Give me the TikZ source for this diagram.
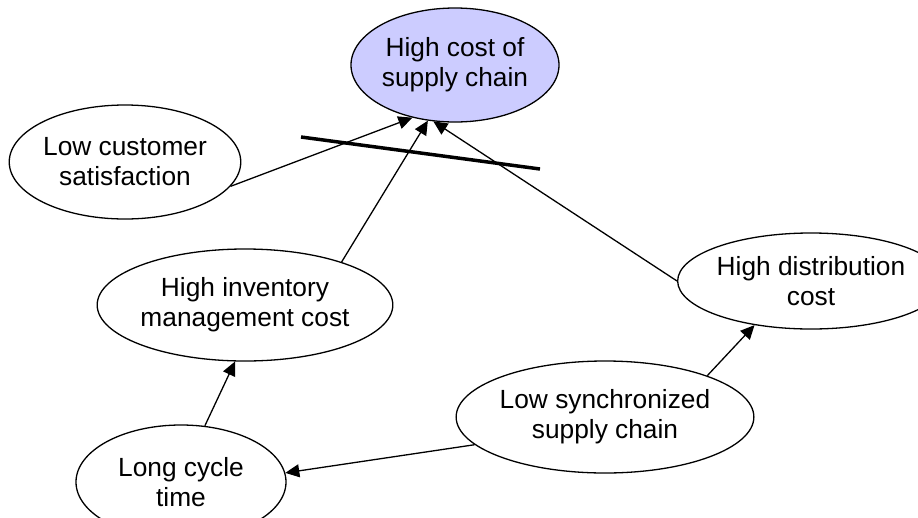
\documentclass[tikz,border=0pt]{standalone}
\usepackage{fontspec}
\setmainfont{Liberation Sans}
\usetikzlibrary{shapes.geometric,arrows.meta}
\definecolor{lav}{HTML}{CCCCFF}
\begin{document}
\begin{tikzpicture}[x=1pt,y=-1pt,
  oval/.style={draw=black,line width=1.3pt,ellipse,inner sep=0pt,align=center,
    font=\fontsize{26.3}{30}\selectfont,fill=white},
  link/.style={line width=1.3pt,-{Triangle[length=14pt,width=13pt]}},
  bar/.style={line width=3.5pt}]
\useasboundingbox (0,0) rectangle (918,517);
\node[oval,fill=lav,minimum width=208pt,minimum height=114pt] (top) at (455,65) {High cost of\\supply chain};
\node[oval,minimum width=224pt,minimum height=114pt] (lcs) at (125,162) {Low customer\\satisfaction};
\node[oval,minimum width=272pt,minimum height=112pt] (hin) at (245,305) {High inventory\\management cost};
\node[oval,minimum width=214pt,minimum height=96pt] (hdc) at (811,281) {High distribution\\cost};
\node[oval,minimum width=256pt,minimum height=112pt] (lss) at (605,417) {Low synchronized\\supply chain};
\node[oval,minimum width=210pt,minimum height=114pt] (lct) at (181,482) {Long cycle\\time};
\draw[link] (lcs.-13.6) -- (top.231);
\draw[link] (hin.24.4) -- (top.244.7);
\draw[link] (hdc.180) -- (top.249);
\draw[link] (lct.67) -- (hin.260);
\draw[link] (lss.22.8) -- (hdc.218);
\draw[link] (lss.192) -- (lct.5.4);
\coordinate (b1) at (301,137);
\coordinate (b2) at (540,169);
\draw[bar] (b1) -- (b2);
\end{tikzpicture}
\end{document}
